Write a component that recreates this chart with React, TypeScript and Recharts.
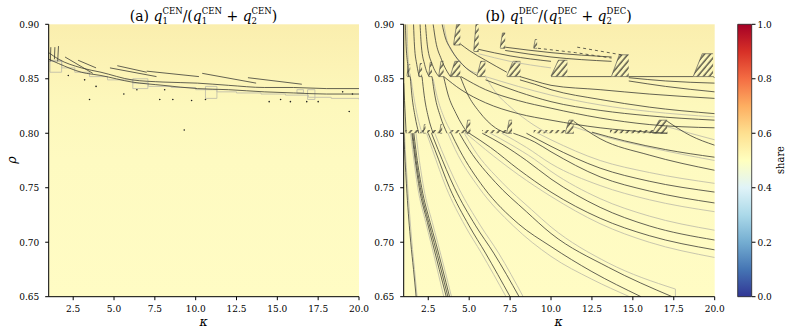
import React from 'react';
import { ComposedChart, Line, Area, Scatter, XAxis, YAxis, CartesianGrid, ReferenceArea, BarChart, Bar } from 'recharts';

type P = [number, number];

const kappaTicks = [2.5, 5, 7.5, 10, 12.5, 15, 17.5, 20];
const rhoTicks = [0.65, 0.7, 0.75, 0.8, 0.85, 0.9];
const shareTicks = [0, 0.2, 0.4, 0.6, 0.8, 1.0];
const shareBar = [{ n: 'share', v: 1 }];

// ---------- panel (a): CEN ----------
const cenDark: P[][] = [
  [[1.0, 0.874], [1.6, 0.868], [3, 0.86], [4.2, 0.856], [6.1, 0.849], [8, 0.847], [10.1, 0.846], [12, 0.844], [14.2, 0.842], [16, 0.842], [18, 0.841], [20, 0.841]],
  [[1.0, 0.868], [1.6, 0.864], [3, 0.856], [4.2, 0.853], [6.1, 0.847], [8, 0.844], [10.1, 0.841], [12, 0.84], [14.2, 0.838], [16, 0.837], [18, 0.836], [20, 0.836]],
  [[2.0, 0.87], [3.7, 0.855]],
  [[2.8, 0.867], [3.9, 0.86]],
  [[4.75, 0.86], [7.6, 0.852]],
  [[5.2, 0.862], [7.0, 0.856]],
  [[7.0, 0.857], [10.2, 0.852]],
  [[10.4, 0.855], [13.7, 0.846]],
  [[13.2, 0.851], [16.5, 0.845]],
  [[1.1, 0.866], [1.13, 0.879]],
  [[1.35, 0.868], [1.38, 0.879]],
  [[1.55, 0.866], [1.6, 0.88]],
];
const cenLight: P[][] = [
  [[1.0, 0.866], [1.8, 0.86], [2.6, 0.856], [3.5, 0.852], [4.6, 0.849], [6.15, 0.846], [7.1, 0.843], [8.5, 0.842], [10, 0.84], [11.3, 0.838], [12.5, 0.837], [14, 0.836], [15.5, 0.835], [16.9, 0.833], [18.3, 0.832], [20, 0.831]],
];
const cenBoxes: number[][] = [
  [1.08, 1.79, 0.856, 0.867],
  [6.15, 7.07, 0.841, 0.85],
  [10.6, 11.3, 0.832, 0.843],
  [16.2, 16.6, 0.837, 0.84],
  [16.85, 17.3, 0.831, 0.84],
];
const cenDots: P[] = [
  [2.2, 0.853], [3.2, 0.849], [3.9, 0.843], [3.5, 0.831], [5.6, 0.836], [6.4, 0.84], [8.1, 0.84],
  [7.8, 0.831], [8.6, 0.831], [9.75, 0.83], [10.6, 0.831], [14.5, 0.829], [15.2, 0.831], [15.8, 0.829],
  [16.8, 0.829], [17.5, 0.829], [19.0, 0.838], [19.6, 0.836], [19.4, 0.82], [9.3, 0.803],
];

// ---------- panel (b): DEC ----------
const decDark: P[][] = [
  [[1.0, 0.8], [1.05, 0.785], [1.2, 0.745], [1.43, 0.7], [1.6, 0.675], [1.76, 0.65]],
  [[1.5, 0.8], [1.62, 0.785], [1.95, 0.75], [2.45, 0.718], [2.75, 0.7], [3.6, 0.65]],
  [[1.55, 0.8], [1.67, 0.785], [2.02, 0.75], [2.53, 0.718], [2.85, 0.7], [3.7, 0.65]],
  [[1.62, 0.8], [1.74, 0.785], [2.1, 0.75], [2.62, 0.718], [2.95, 0.7], [3.8, 0.65]],
  [[2.5, 0.8], [2.9, 0.785], [3.8, 0.75], [5.0, 0.715], [6.0, 0.69], [7.5, 0.65]],
  [[2.7, 0.8], [3.1, 0.785], [4.1, 0.75], [5.4, 0.715], [6.5, 0.69], [8.05, 0.65]],
  [[3.9, 0.8], [4.4, 0.785], [5.9, 0.75], [8.0, 0.717], [10, 0.696], [12.5, 0.673], [15.5, 0.65]],
  [[4.4, 0.8], [5.0, 0.785], [6.6, 0.755], [8.5, 0.728], [10, 0.708], [13.5, 0.677], [17.4, 0.65]],
  [[5.0, 0.8], [6.3, 0.787], [8, 0.767], [10, 0.746], [13, 0.722], [16, 0.706], [20, 0.693]],
  [[5.8, 0.8], [7, 0.79], [8.5, 0.775], [10, 0.758], [13, 0.732], [16, 0.715], [20, 0.702]],
  [[7.7, 0.8], [9, 0.792], [10, 0.783], [13, 0.76], [16, 0.747], [20, 0.736]],
  [[8.5, 0.8], [10, 0.788], [13, 0.768], [16, 0.756], [20, 0.746]],
  [[11.38, 0.811], [13, 0.795], [16, 0.78], [20, 0.766]],
  [[12.5, 0.801], [14.5, 0.793], [17, 0.785], [20, 0.778]],
  [[17.1, 0.811], [18.5, 0.798], [20, 0.789]],
  [[1.0, 0.846], [1.05, 0.83], [1.1, 0.815], [1.15, 0.8]],
  [[1.4, 0.852], [1.5, 0.835], [1.7, 0.815], [1.92, 0.8]],
  [[2.12, 0.852], [2.25, 0.835], [2.5, 0.815], [2.8, 0.8]],
  [[2.73, 0.852], [2.9, 0.835], [3.25, 0.815], [3.65, 0.8]],
  [[3.44, 0.852], [3.7, 0.836], [4.2, 0.818], [4.9, 0.8]],
  [[4.46, 0.852], [4.9, 0.836], [5.6, 0.82], [6.6, 0.805], [7.3, 0.8]],
  [[3.45, 0.852], [4.5, 0.84], [6, 0.828], [8, 0.818], [10, 0.812], [13, 0.805], [16, 0.801], [17.1, 0.8]],
  [[4.5, 0.852], [6, 0.84], [8, 0.83], [10, 0.823], [13, 0.814], [16, 0.808], [20, 0.805]],
  [[6.0, 0.849], [8, 0.838], [10, 0.829], [13, 0.821], [16, 0.816], [20, 0.812]],
  [[8.1, 0.849], [9, 0.845], [10, 0.84], [13, 0.831], [16, 0.824], [20, 0.818]],
  [[8.1, 0.852], [9, 0.848], [10, 0.844], [13, 0.84], [16, 0.836], [20, 0.832]],
  [[14.75, 0.851], [17, 0.848], [20, 0.846]],
  [[14.75, 0.848], [17, 0.843], [20, 0.838]],
  [[11.0, 0.852], [13.7, 0.852]],
  [[14.75, 0.852], [18.7, 0.852]],
  [[19.9, 0.852], [20, 0.851]],
  [[1.1, 0.9], [1.15, 0.88], [1.25, 0.862], [1.3, 0.852]],
  [[1.6, 0.9], [1.66, 0.88], [1.8, 0.863], [1.95, 0.852]],
  [[2.0, 0.9], [2.08, 0.88], [2.28, 0.863], [2.55, 0.852]],
  [[2.33, 0.9], [2.45, 0.88], [2.75, 0.863], [3.15, 0.852]],
  [[2.8, 0.9], [2.95, 0.885], [3.3, 0.868], [3.85, 0.852]],
  [[3.35, 0.9], [3.5, 0.89], [3.9, 0.877], [4.6, 0.863], [5.48, 0.853]],
  [[4.46, 0.882], [5.0, 0.876], [6, 0.867], [7.3, 0.856]],
  [[5.58, 0.877], [7.5, 0.871], [10, 0.866]],
  [[7.2, 0.879], [10, 0.874], [13.7, 0.87]],
  [[7.2, 0.876], [10, 0.87], [13.7, 0.866]],
];
const decLight: P[][] = [
  [[1.05, 0.8], [1.1, 0.785], [1.27, 0.745], [1.5, 0.7], [1.66, 0.675], [1.82, 0.65]],
  [[1.42, 0.8], [1.54, 0.785], [1.86, 0.75], [2.35, 0.718], [2.65, 0.7], [3.45, 0.65]],
  [[1.75, 0.8], [1.87, 0.785], [2.22, 0.75], [2.75, 0.718], [3.07, 0.7], [3.92, 0.65]],
  [[2.4, 0.8], [2.75, 0.785], [3.6, 0.75], [4.75, 0.715], [5.75, 0.69], [7.25, 0.65]],
  [[2.9, 0.8], [3.3, 0.785], [4.35, 0.75], [5.7, 0.715], [6.8, 0.69], [8.3, 0.65]],
  [[3.7, 0.8], [4.15, 0.785], [5.6, 0.75], [7.7, 0.715], [10, 0.687], [12.5, 0.666], [14.8, 0.65]],
  [[4.7, 0.8], [5.3, 0.785], [7.0, 0.755], [8.8, 0.73], [10, 0.714], [13.5, 0.681], [17.6, 0.657]],
  [[17.6, 0.657], [17.6, 0.65]],
  [[4.8, 0.8], [6, 0.785], [8, 0.762], [10, 0.742], [13, 0.717], [16, 0.7], [20, 0.686]],
  [[6.3, 0.8], [7.5, 0.79], [9, 0.776], [10, 0.765], [13, 0.74], [16, 0.724], [20, 0.711]],
  [[7.0, 0.8], [8.5, 0.787], [10, 0.772], [13, 0.752], [16, 0.739], [20, 0.728]],
  [[9.2, 0.8], [10, 0.794], [13, 0.775], [16, 0.764], [20, 0.754]],
  [[11.38, 0.806], [13, 0.798], [16, 0.787], [20, 0.775]],
  [[17.1, 0.806], [18.5, 0.8], [20, 0.794]],
  [[1.45, 0.85], [1.6, 0.835], [1.85, 0.815], [2.12, 0.8]],
  [[2.8, 0.85], [3.05, 0.833], [3.45, 0.815], [3.95, 0.8]],
  [[5.99, 0.852], [6.6, 0.838], [7.6, 0.823], [8.9, 0.808], [9.8, 0.8]],
  [[6.0, 0.852], [8, 0.843], [10, 0.835], [13, 0.826], [16, 0.82], [20, 0.815]],
  [[5.58, 0.873], [7.5, 0.866], [10, 0.86]],
  [[1.2, 0.9], [1.25, 0.875], [1.4, 0.852]],
  [[3.45, 0.9], [3.65, 0.885], [4.1, 0.872], [4.8, 0.86], [5.5, 0.855]],
];
const decDashed: P[][] = [
  [[11.6, 0.879], [14.3, 0.872]],
  [[9.2, 0.878], [11.5, 0.874], [13.7, 0.869]],
];
// hatched cells: kappa from, kappa to, rho low, rho high
const decHatch: number[][] = [
  [4.05, 4.46, 0.881, 0.9], [5.28, 5.58, 0.875, 0.9], [6.9, 7.2, 0.878, 0.892], [8.94, 9.15, 0.878, 0.886],
  [1.2, 1.4, 0.852, 0.863], [1.92, 2.12, 0.852, 0.864], [2.53, 2.73, 0.852, 0.865], [3.14, 3.44, 0.852, 0.866],
  [3.85, 4.46, 0.852, 0.866], [5.48, 5.99, 0.852, 0.866], [7.3, 8.13, 0.852, 0.866], [10.0, 11.0, 0.852, 0.867],
  [13.7, 14.75, 0.852, 0.872], [18.7, 19.9, 0.852, 0.873],
  [2.2, 2.33, 0.8, 0.808], [3.2, 3.35, 0.8, 0.808], [4.78, 5.07, 0.8, 0.812], [7.3, 7.62, 0.8, 0.812],
  [10.87, 11.38, 0.8, 0.812], [16.2, 17.1, 0.8, 0.812],
];
const decStrips: number[][] = [
  [1.1, 2.33], [2.43, 3.35], [3.75, 5.07], [5.79, 7.62], [8.94, 11.38], [13.6, 17.1],
];

const toPts = (c: P[]) => c.map(([k, r]) => ({ k, r }));
const curveType = (c: P[]) => (c.some((p, i) => i > 0 && p[0] <= c[i - 1][0]) || c.length < 3 ? 'linear' : 'monotone');

const FONT = 'DejaVu Serif';
const tickStyle = { fontSize: 10, fontFamily: FONT, fontStretch: 'condensed', fill: '#000' } as any;
const DARK = '#3c3c36';
const LIGHT = '#c2c0aa';

const dotShape = (p: any) => <circle cx={p.cx} cy={p.cy} r={0.8} fill="#222" />;

function Panel(props: {
  left: number; marginRight: number;
  dark: P[][]; light: P[][]; dashed?: P[][]; hatch?: number[][]; strips?: number[][];
  boxes?: number[][]; dots?: P[];
}) {
  const { left, marginRight, dark, light, dashed = [], hatch = [], strips = [], boxes = [], dots = [] } = props;
  return (
    <div style={{ position: 'absolute', left, top: 0 }}>
      <ComposedChart width={371} height={335} margin={{ top: 24.3, right: marginRight, bottom: 8, left: 0 }}>
        <CartesianGrid horizontal={false} vertical={false} fill="url(#bgA)" fillOpacity={1} stroke="none" />
        <XAxis type="number" dataKey="k" domain={[1, 20]} ticks={kappaTicks} allowDataOverflow
          tickFormatter={(v: number) => v.toFixed(1)} height={30.3} tickSize={3.5} tickMargin={5}
          tick={tickStyle} axisLine={{ stroke: '#000', strokeWidth: 1 }} tickLine={{ stroke: '#000' }} />
        <YAxis type="number" dataKey="r" domain={[0.65, 0.9]} ticks={rhoTicks} allowDataOverflow
          tickFormatter={(v: number) => v.toFixed(2)} width={48.7} tickSize={3.5} tickMargin={6}
          tick={tickStyle} axisLine={{ stroke: '#000', strokeWidth: 1 }} tickLine={{ stroke: '#000' }} />
        {boxes.map((b, i) => (
          <ReferenceArea key={'b' + i} x1={b[0]} x2={b[1]} y1={b[2]} y2={b[3]} fill="none" fillOpacity={0}
            stroke={LIGHT} strokeWidth={0.9} />
        ))}
        {light.map((c, i) => (
          <Line key={'l' + i} data={toPts(c)} dataKey="r" type={i === 0 && boxes.length ? 'stepAfter' : curveType(c)}
            stroke={LIGHT} strokeWidth={0.9} dot={false} activeDot={false} isAnimationActive={false} />
        ))}
        {strips.map((s, i) => (
          <Area key={'s' + i} data={[{ k: s[0], r: [0.8, 0.803] }, { k: s[1], r: [0.8, 0.803] }]} dataKey="r"
            type="linear" stroke="none" fill="url(#hatch)" fillOpacity={1} dot={false} activeDot={false}
            isAnimationActive={false} />
        ))}
        {hatch.map((h, i) => (
          <Area key={'h' + i}
            data={[{ k: h[0], r: [h[2], h[2] + 0.0005] }, { k: h[0] + 0.45 * (h[1] - h[0]), r: [h[2], h[3]] }, { k: h[1], r: [h[2], h[3]] }]}
            dataKey="r" type="linear" stroke="#444" strokeWidth={0.6} fill="url(#hatch)" fillOpacity={1}
            dot={false} activeDot={false} isAnimationActive={false} />
        ))}
        {dark.map((c, i) => (
          <Line key={'d' + i} data={toPts(c)} dataKey="r" type={curveType(c)}
            stroke={DARK} strokeWidth={0.8} dot={false} activeDot={false} isAnimationActive={false} />
        ))}
        {dashed.map((c, i) => (
          <Line key={'x' + i} data={toPts(c)} dataKey="r" type="linear" strokeDasharray="3 3"
            stroke={DARK} strokeWidth={0.8} dot={false} activeDot={false} isAnimationActive={false} />
        ))}
        {dots.length > 0 && (
          <Scatter data={toPts(dots)} dataKey="r" shape={dotShape} isAnimationActive={false} />
        )}
      </ComposedChart>
    </div>
  );
}

function Title({ cx, tag, sup }: { cx: number; tag: string; sup: string }) {
  const s = 8.5;
  return (
    <text x={cx} y={21} textAnchor="middle" style={{ fontFamily: FONT }} fontSize={14} fill="#000">
      <tspan>({tag}) </tspan>
      <tspan fontStyle="italic">q</tspan>
      <tspan fontSize={s} dy={3}>1</tspan>
      <tspan fontSize={s} dx={-5.4} dy={-10}>{sup}</tspan>
      <tspan dy={7}>/(</tspan>
      <tspan fontStyle="italic">q</tspan>
      <tspan fontSize={s} dy={3}>1</tspan>
      <tspan fontSize={s} dx={-5.4} dy={-10}>{sup}</tspan>
      <tspan dy={7}> + </tspan>
      <tspan fontStyle="italic">q</tspan>
      <tspan fontSize={s} dy={3}>2</tspan>
      <tspan fontSize={s} dx={-5.4} dy={-10}>{sup}</tspan>
      <tspan dy={7}>)</tspan>
    </text>
  );
}

export default function App() {
  return (
    <div style={{ position: 'absolute', left: 0, top: 0, width: 793, height: 335, background: '#fff' }}>
      <svg width={0} height={0} style={{ position: 'absolute' }}>
        <defs>
          <linearGradient id="bgA" x1="0" y1="0" x2="0" y2="1">
            <stop offset="0" stopColor="#FAEEAE" />
            <stop offset="0.15" stopColor="#FCF3B5" />
            <stop offset="0.3" stopColor="#FDF8BC" />
            <stop offset="0.5" stopColor="#FEFAC1" />
            <stop offset="1" stopColor="#FFFCC4" />
          </linearGradient>
          <linearGradient id="cbar" x1="0" y1="1" x2="0" y2="0">
            <stop offset="0" stopColor="#313695" />
            <stop offset="0.1" stopColor="#4575b4" />
            <stop offset="0.2" stopColor="#74add1" />
            <stop offset="0.3" stopColor="#abd9e9" />
            <stop offset="0.4" stopColor="#e0f3f8" />
            <stop offset="0.5" stopColor="#ffffbf" />
            <stop offset="0.6" stopColor="#fee090" />
            <stop offset="0.7" stopColor="#fdae61" />
            <stop offset="0.8" stopColor="#f46d43" />
            <stop offset="0.9" stopColor="#d73027" />
            <stop offset="1" stopColor="#a50026" />
          </linearGradient>
          <pattern id="hatch" patternUnits="userSpaceOnUse" width="4.5" height="4.5" patternTransform="rotate(40)">
            <rect width="4.5" height="4.5" fill="#FCF6BA" />
            <line x1="1" y1="0" x2="1" y2="4.5" stroke="#222" strokeWidth="1.1" />
          </pattern>
        </defs>
      </svg>

      <Panel left={0} marginRight={12} dark={cenDark} light={cenLight} boxes={cenBoxes} dots={cenDots} />
      <Panel left={354.6} marginRight={11.3} dark={decDark} light={decLight} dashed={decDashed}
        hatch={decHatch} strips={decStrips} />

      <div style={{ position: 'absolute', left: 737, top: 0 }}>
        <BarChart width={57} height={335} data={shareBar} barCategoryGap={0}
          margin={{ top: 24.3, right: 0, bottom: 38.3, left: 0.7 }}>
          <XAxis dataKey="n" hide />
          <YAxis orientation="right" type="number" domain={[0, 1]} ticks={shareTicks} width={42}
            tickFormatter={(v: number) => v.toFixed(1)} tickSize={3.5} tickMargin={2}
            tick={tickStyle} axisLine={false} tickLine={{ stroke: '#000' }} />
          <Bar dataKey="v" fill="url(#cbar)" stroke="#222" strokeWidth={0.8} isAnimationActive={false} />
        </BarChart>
      </div>

      <svg width={793} height={335} style={{ position: 'absolute', left: 0, top: 0, pointerEvents: 'none' }}>
        <Title cx={203.5} tag="a" sup="CEN" />
        <Title cx={558.5} tag="b" sup="DEC" />
        <text x={203.5} y={326} textAnchor="middle" style={{ fontFamily: FONT }} fontStyle="italic" fontSize={12.5}>κ</text>
        <text x={558.5} y={326} textAnchor="middle" style={{ fontFamily: FONT }} fontStyle="italic" fontSize={12.5}>κ</text>
        <text x={0} y={0} transform="translate(16,160) rotate(-90)" textAnchor="middle" style={{ fontFamily: FONT }}
          fontStyle="italic" fontSize={12.5}>ρ</text>
        <text x={0} y={0} transform="translate(784,160) rotate(-90)" textAnchor="middle" style={{ fontFamily: FONT, fontStretch: 'condensed' }}
          fontSize={11}>share</text>
      </svg>
    </div>
  );
}
